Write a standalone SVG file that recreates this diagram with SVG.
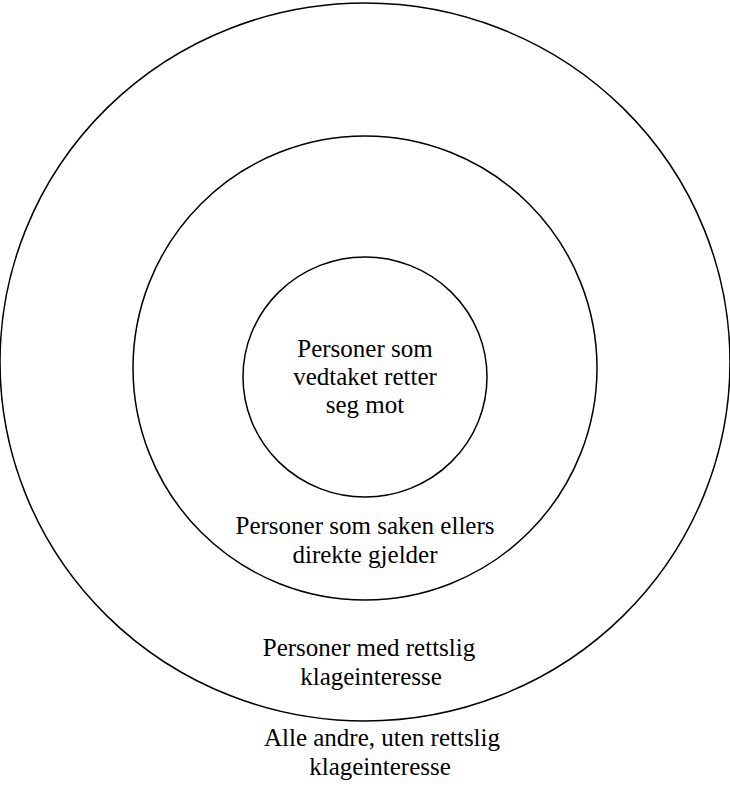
<svg xmlns="http://www.w3.org/2000/svg" width="730" height="800" viewBox="0 0 730 800">
<style>
.ring{fill:none;stroke:#000;stroke-width:1.5}
.lbl{font-family:"Liberation Serif","Times New Roman",serif;font-size:25px;fill:#000;text-anchor:middle}
</style>
<rect width="730" height="800" fill="#fff"/>
<g id="outer"><ellipse class="ring" cx="365" cy="362" rx="365" ry="359"/></g>
<g id="middle"><ellipse class="ring" cx="365" cy="368" rx="232" ry="232"/></g>
<g id="inner"><ellipse class="ring" cx="365" cy="377" rx="122" ry="120"/></g>
<g id="labels">
<text class="lbl" x="365" y="357">Personer som</text>
<text class="lbl" x="365" y="385">vedtaket retter</text>
<text class="lbl" x="365" y="413">seg mot</text>
<text class="lbl" x="365" y="534">Personer som saken ellers</text>
<text class="lbl" x="365" y="563">direkte gjelder</text>
<text class="lbl" x="369" y="656">Personer med rettslig</text>
<text class="lbl" x="371" y="685">klageinteresse</text>
<text class="lbl" x="382" y="746">Alle andre, uten rettslig</text>
<text class="lbl" x="380" y="775">klageinteresse</text>
</g>
</svg>
